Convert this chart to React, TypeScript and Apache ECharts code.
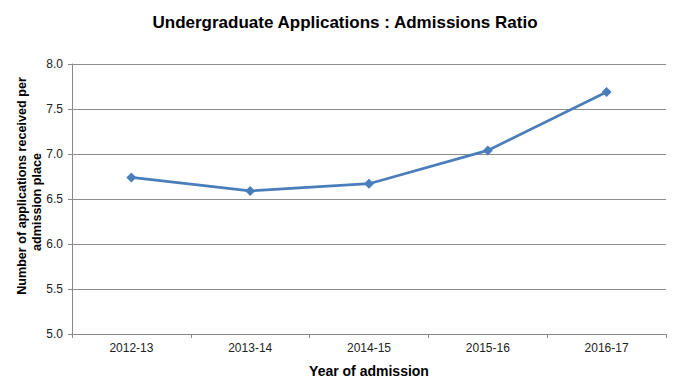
import React, { useEffect, useRef } from "react";
import * as echarts from "echarts";

const categories = ["2012-13", "2013-14", "2014-15", "2015-16", "2016-17"];
const ratios = [6.74, 6.59, 6.67, 7.04, 7.69];
const titleText = "Undergraduate Applications : Admissions Ratio";
const xName = "Year of admission";
const yNameLine1 = "Number of applications received per";
const yNameLine2 = "admission place";

export default function App() {
  const ref = useRef<HTMLDivElement>(null);
  useEffect(() => {
    if (!ref.current) return;
    const chart = echarts.init(ref.current, null, { renderer: "svg" });
    const nameStyle = { fontFamily: "Liberation Sans", fontWeight: "bold", fontSize: 12.6, fill: "#000" };
    chart.setOption({
      animation: false,
      backgroundColor: "#ffffff",
      title: {
        text: titleText,
        left: 340,
        textAlign: "center",
        top: 9,
        textStyle: { fontFamily: "Liberation Sans", fontWeight: "bold", fontSize: 17, color: "#000" },
      },
      graphic: [
        {
          type: "text",
          x: 22,
          y: 186,
          rotation: Math.PI / 2,
          style: { ...nameStyle, text: yNameLine1, align: "center", verticalAlign: "middle" },
        },
        {
          type: "text",
          x: 37,
          y: 202,
          rotation: Math.PI / 2,
          style: { ...nameStyle, text: yNameLine2, align: "center", verticalAlign: "middle" },
        },
      ],
      grid: { left: 72, right: 19, top: 64, bottom: 43, containLabel: false },
      xAxis: {
        type: "category",
        data: categories,
        boundaryGap: true,
        name: xName,
        nameLocation: "middle",
        nameGap: 30,
        nameTextStyle: { fontFamily: "Liberation Sans", fontWeight: "bold", fontSize: 14, color: "#000" },
        axisLine: { lineStyle: { color: "#888", width: 1 } },
        axisTick: { show: true, alignWithLabel: false, length: 4, lineStyle: { color: "#888" } },
        axisLabel: { fontFamily: "Liberation Sans", fontSize: 12, color: "#222", margin: 8 },
      },
      yAxis: {
        type: "value",
        min: 5,
        max: 8,
        interval: 0.5,
        axisLine: { show: true, lineStyle: { color: "#888", width: 1 } },
        axisTick: { show: true, length: 4, lineStyle: { color: "#888" } },
        axisLabel: { fontFamily: "Liberation Sans", fontSize: 12, color: "#222", margin: 9, formatter: (v: number) => v.toFixed(1) },
        splitLine: { lineStyle: { color: "#8c8c8c", width: 1 } },
      },
      series: [
        {
          type: "line",
          data: ratios,
          symbol: "diamond",
          symbolSize: 10,
          lineStyle: { color: "#4a7ebb", width: 2.75 },
          itemStyle: { color: "#4a7ebb" },
        },
      ],
    });
    return () => chart.dispose();
  }, []);
  return <div ref={ref} style={{ width: 685, height: 383, position: "absolute", left: 0, top: 0 }} />;
}
